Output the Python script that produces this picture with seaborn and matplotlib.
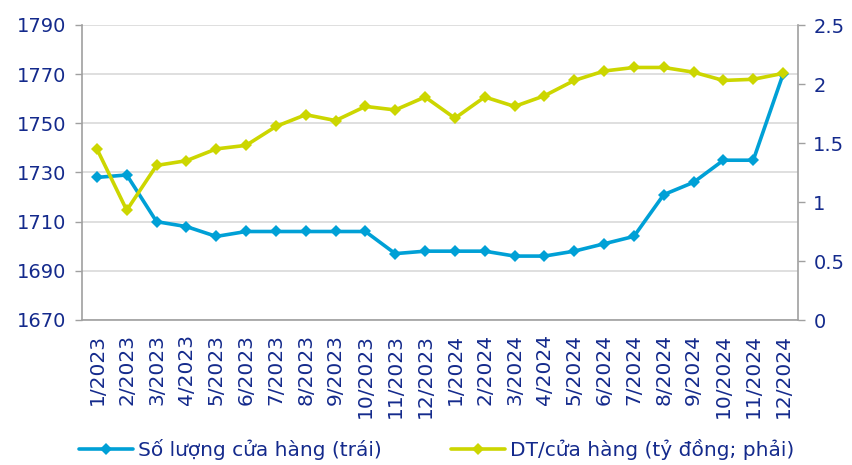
import matplotlib
matplotlib.use("Agg")
import matplotlib.pyplot as plt
import seaborn as sns
import pandas as pd
from matplotlib.lines import Line2D

months = ["1/2023", "2/2023", "3/2023", "4/2023", "5/2023", "6/2023", "7/2023", "8/2023",
          "9/2023", "10/2023", "11/2023", "12/2023", "1/2024", "2/2024", "3/2024", "4/2024",
          "5/2024", "6/2024", "7/2024", "8/2024", "9/2024", "10/2024", "11/2024", "12/2024"]
so_luong = [1728, 1729, 1710, 1708, 1704, 1706, 1706, 1706, 1706, 1706, 1697, 1698,
            1698, 1698, 1696, 1696, 1698, 1701, 1704, 1721, 1726, 1735, 1735, 1770]
dt_cua_hang = [1.45, 0.93, 1.31, 1.35, 1.45, 1.48, 1.64, 1.74, 1.69, 1.81, 1.78, 1.89,
               1.71, 1.89, 1.81, 1.90, 2.03, 2.11, 2.14, 2.14, 2.10, 2.03, 2.04, 2.09]
left_ticks = [1670, 1690, 1710, 1730, 1750, 1770, 1790]
right_ticks = [0, 0.5, 1, 1.5, 2, 2.5]
right_labels = ["0", "0.5", "1", "1.5", "2", "2.5"]
label_left = "Số lượng cửa hàng (trái)"
label_right = "DT/cửa hàng (tỷ đồng; phải)"

BLUE = "#00A0D6"
YELLOW = "#CCD600"
TEXT = "#142A8C"
AXIS = "#A0A0A0"
GRID = "#D9D9D9"
FS = 14

sns.set_theme(style="white")
plt.rcParams["font.family"] = ["DejaVu Sans"]

df = pd.DataFrame({"month": months, "so_luong": so_luong, "dt": dt_cua_hang})
df["x"] = range(len(months))

fig = plt.figure(figsize=(8.53, 4.65), dpi=100)
ax = fig.add_axes([82 / 853, 1 - 320 / 465, (798 - 82) / 853, (320 - 25) / 465])
ax2 = ax.twinx()

sns.lineplot(data=df, x="x", y="so_luong", ax=ax, color=BLUE, linewidth=2.6,
             marker="D", markersize=6.5, markeredgewidth=0, zorder=3)
sns.lineplot(data=df, x="x", y="dt", ax=ax2, color=YELLOW, linewidth=2.6,
             marker="D", markersize=6.5, markeredgewidth=0, zorder=3)

ax.set_xlim(-0.5, len(months) - 0.5)
ax.set_ylim(1670, 1790)
ax2.set_ylim(0, 2.5)
ax.set_yticks(left_ticks)
ax.set_yticklabels([str(v) for v in left_ticks], color=TEXT, fontsize=FS)
ax2.set_yticks(right_ticks)
ax2.set_yticklabels(right_labels, color=TEXT, fontsize=FS)

ax.set_xticks(range(len(months)))
ax.set_xticklabels(months, rotation=90, color=TEXT, fontsize=14.5)
ax.set_xticks([i - 0.5 for i in range(len(months) + 1)], minor=True)
ax.tick_params(axis="x", which="major", length=0, pad=10)
ax.tick_params(axis="x", which="minor", length=5, width=1, color=AXIS, direction="out")
ax.tick_params(axis="y", length=5, width=1, color=AXIS, direction="out", pad=6, left=True)
ax2.tick_params(axis="y", length=5, width=1, color=AXIS, direction="out", pad=6, right=True)

ax.set_xlabel("")
ax.set_ylabel("")
ax2.set_ylabel("")

ax.yaxis.grid(True, color=GRID, linewidth=1.2)
ax.set_axisbelow(True)

for a in (ax, ax2):
    a.spines["top"].set_visible(False)
    for s in ("left", "right", "bottom"):
        a.spines[s].set_color(AXIS)
        a.spines[s].set_linewidth(1.2)
ax.spines["right"].set_visible(False)
ax2.spines["left"].set_visible(False)
ax2.spines["bottom"].set_visible(False)

handles = [
    Line2D([0], [0], color=BLUE, linewidth=2.6, marker="D", markersize=6.5, markeredgewidth=0),
    Line2D([0], [0], color=YELLOW, linewidth=2.6, marker="D", markersize=6.5, markeredgewidth=0),
]
leg = fig.legend(handles, [label_left, label_right], loc="center", ncol=2,
                 bbox_to_anchor=(0.512, 0.034), frameon=False, fontsize=14.5,
                 handlelength=2.7, handletextpad=0.25, columnspacing=3.4,
                 borderpad=0.1)
for t in leg.get_texts():
    t.set_color(TEXT)

fig.savefig("out.png", dpi=100)
